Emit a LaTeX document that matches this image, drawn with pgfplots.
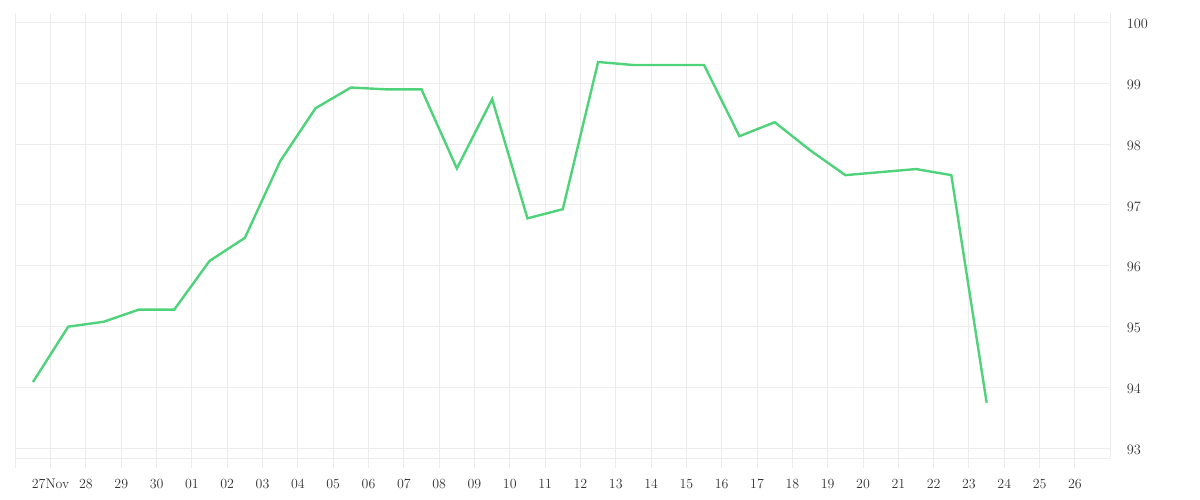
\documentclass[border=0pt]{standalone}
\usepackage{pgfplots}
\pgfplotsset{compat=1.18}
\definecolor{linegreen}{RGB}{78,210,122}
\definecolor{gridgray}{RGB}{236,236,236}
\definecolor{labelgray}{RGB}{51,51,51}
\begin{document}
\begin{tikzpicture}
\useasboundingbox (-15.3bp,-41.7bp) rectangle (1184.7bp,458.3bp);
\begin{axis}[
    at={(0,0)}, anchor=south west,
    scale only axis,
    width=1095bp, height=445.6bp,
    xmin=-1, xmax=30,
    ymin=92.836, ymax=100.16,
    axis x line*=bottom,
    axis y line*=right,
    axis line style={draw=gridgray, line width=1bp},
    grid=major,
    grid style={draw=gridgray, line width=1bp},
    tick align=outside,
    major tick length=10bp,
    xtick={-1,...,29},
    xticklabels={,27Nov,28,29,30,01,02,03,04,05,06,07,08,09,10,11,12,13,14,15,16,17,18,19,20,21,22,23,24,25,26},
    ytick={93,...,100},
    xtick style={draw=gridgray, line width=1bp},
    ytick style={draw=none},
    tick label style={font=\fontsize{14}{16}\selectfont, text=labelgray},
    xticklabel style={yshift=-7bp},
    yticklabel style={xshift=3bp, yshift=-1.5bp},
]
\addplot[linegreen, line width=2.4bp] coordinates {
(-0.5, 94.09)
(0.5, 95.00)
(1.5, 95.08)
(2.5, 95.28)
(3.5, 95.28)
(4.5, 96.08)
(5.5, 96.46)
(6.5, 97.72)
(7.5, 98.59)
(8.5, 98.93)
(9.5, 98.90)
(10.5, 98.90)
(11.5, 97.60)
(12.5, 98.74)
(13.5, 96.78)
(14.5, 96.93)
(15.5, 99.35)
(16.5, 99.30)
(17.5, 99.30)
(18.5, 99.30)
(19.5, 98.13)
(20.5, 98.36)
(21.5, 97.90)
(22.5, 97.49)
(23.5, 97.54)
(24.5, 97.59)
(25.5, 97.49)
(26.5, 93.75)
};
\end{axis}
\end{tikzpicture}
\end{document}
